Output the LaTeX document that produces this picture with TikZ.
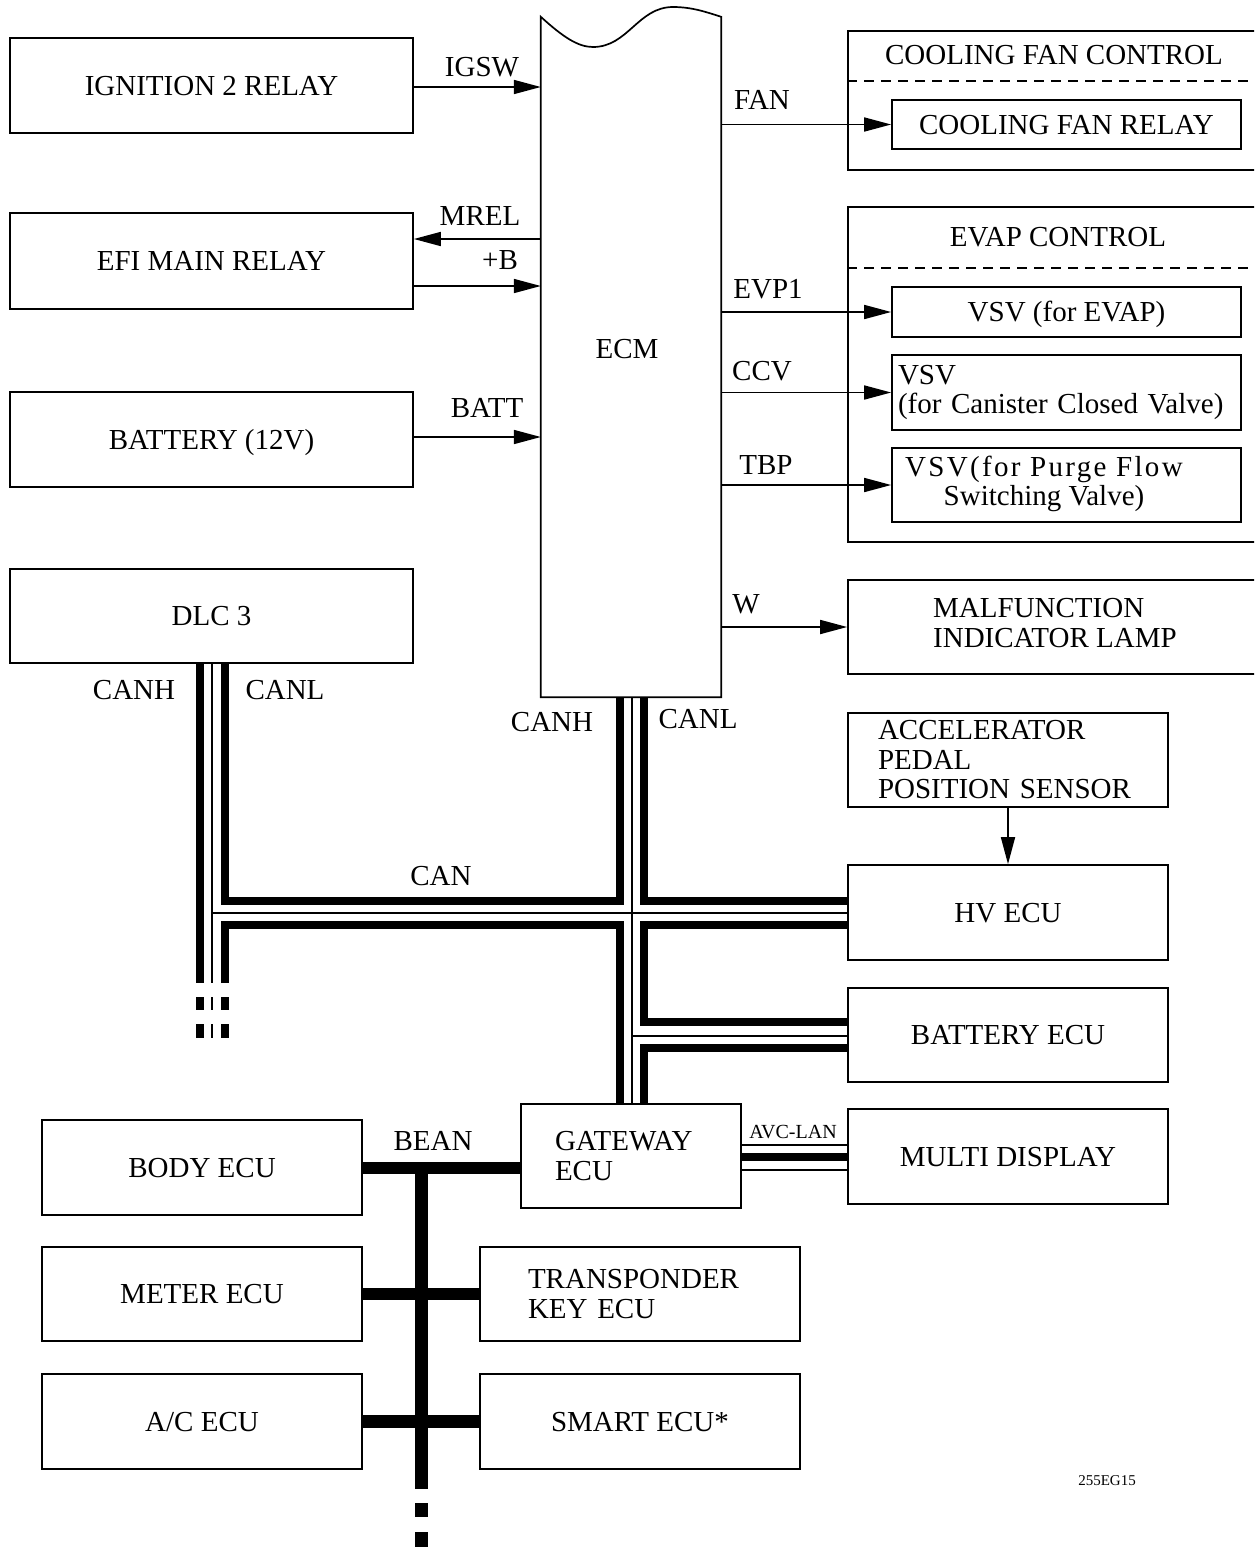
\documentclass[tikz,border=0pt]{standalone}
\usepackage{fontspec}
\setmainfont{Liberation Serif}
\usetikzlibrary{arrows.meta}
\newcommand\fsz{\fontsize{29}{29.5}\selectfont}
\newcommand\fss{\fontsize{20}{22}\selectfont}
\newcommand\fst{\fontsize{15}{17}\selectfont}
\begin{document}
\begin{tikzpicture}[x=1pt,y=-1pt,
 every node/.style={font=\fsz, inner sep=0pt},
 box/.style={draw, line width=1.7pt, inner sep=0pt},
 boxone/.style={box, text height=19pt, text depth=0pt},
 arr/.style={line width=1.7pt, -{Triangle[length=27pt,width=14pt]}},
 dashline/.style={line width=1.7pt, dash pattern=on 10pt off 7pt},
 wall/.style={line width=8.5pt, line join=miter},
 ctr/.style={line width=1.7pt},
 bean/.style={line width=12.5pt}]
\useasboundingbox (0,0) rectangle (1254,1548);
\clip (0,0) rectangle (1254,1548);

% left column boxes
\node[boxone, minimum width=403pt, minimum height=95pt] (ign) at (211.5,85.5) {IGNITION 2 RELAY};
\node[boxone, minimum width=403pt, minimum height=96pt] (efi) at (211.5,261) {EFI MAIN RELAY};
\node[boxone, minimum width=403pt, minimum height=95pt] (bat) at (211.5,439.5) {BATTERY (12V)};
\node[boxone, minimum width=403pt, minimum height=94pt] (dlc) at (211.5,616) {DLC 3};

% ECM
\node[minimum width=180pt, minimum height=680pt] (ecm) at (631,357) {};
\draw[line width=1.7pt] (ecm.south west) -- (ecm.north west)
  .. controls (563,37) and (578,47) .. (593,47)
  .. controls (628,47) and (638,7) .. (673,7)
  .. controls (692,7) and (706,12) .. (ecm.north east) -- (ecm.south east) -- cycle;
\node (ecmlbl) at (627,349) {ECM};

% right column
\node[box, minimum width=414pt, minimum height=139pt] (cfc) at (1055,100.5) {};
\node (cfct) at (1054,55) {COOLING FAN CONTROL};
\draw[dashline] (cfc.west |- 0,81) -- (cfc.east |- 0,81);
\node[boxone, minimum width=349pt, minimum height=49pt] (cfr) at (1066.5,124.5) {COOLING FAN RELAY};

\node[box, minimum width=414pt, minimum height=335pt] (evap) at (1055,374.5) {};
\node (evapt) at (1058,237) {EVAP CONTROL};
\draw[dashline] (evap.west |- 0,268) -- (evap.east |- 0,268);
\node[boxone, minimum width=349pt, minimum height=50pt] (vsv1) at (1066.5,312) {VSV (for EVAP)};
\node[box, minimum width=349pt, minimum height=75pt, align=left, text width=337pt] (vsv2) at (1066.5,392.5) {VSV\\(for Canister Closed Valve)};
\node[box, minimum width=349pt, minimum height=74pt] (vsv3) at (1066.5,485) {};
\node[align=center] (vsv3t) at (1044,484) {{\addfontfeatures{LetterSpace=8}VSV(for Purge Flow}\\ Switching Valve)};

\node[box, minimum width=414pt, minimum height=94pt] (mil) at (1055,627) {};
\node[align=left, anchor=west] (milt) at (933,623) {MALFUNCTION\\INDICATOR LAMP};

\node[box, minimum width=320pt, minimum height=94pt, align=left, text width=260pt] (app) at (1008,760) {ACCELERATOR\\PEDAL\\POSITION SENSOR};
\node[boxone, minimum width=320pt, minimum height=95pt] (hv) at (1008,912.5) {HV ECU};
\node[boxone, minimum width=320pt, minimum height=94pt] (bate) at (1008,1035) {BATTERY ECU};
\node[boxone, minimum width=320pt, minimum height=95pt] (md) at (1008,1156.5) {MULTI DISPLAY};
\node[box, minimum width=220pt, minimum height=104pt, align=left, text width=152pt] (gw) at (631,1156) {GATEWAY\\ECU};

% bottom left
\node[boxone, minimum width=320pt, minimum height=95pt] (body) at (202,1167.5) {BODY ECU};
\node[boxone, minimum width=320pt, minimum height=94pt] (meter) at (202,1294) {METER ECU};
\node[boxone, minimum width=320pt, minimum height=95pt] (ac) at (202,1421.5) {A/C ECU};
\node[box, minimum width=320pt, minimum height=94pt, align=left, text width=224pt] (trans) at (640,1294) {TRANSPONDER\\KEY ECU};
\node[boxone, minimum width=320pt, minimum height=95pt] (smart) at (640,1421.5) {SMART ECU*};

% signal arrows
\draw[arr] (ign.east |- 0,87) -- (ecm.west |- 0,87);
\draw[arr] (ecm.west |- 0,239) -- (efi.east |- 0,239);
\draw[arr] (efi.east |- 0,286) -- (ecm.west |- 0,286);
\draw[arr] (bat.east |- 0,437) -- (ecm.west |- 0,437);
\draw[arr] (ecm.east |- cfr.west) -- (cfr.west);
\draw[arr] (ecm.east |- vsv1.west) -- (vsv1.west);
\draw[arr] (ecm.east |- vsv2.west) -- (vsv2.west);
\draw[arr] (ecm.east |- vsv3.west) -- (vsv3.west);
\draw[arr] (ecm.east |- mil.west) -- (mil.west);
\draw[arr] (app.south) -- (hv.north);

% signal labels
\node (lIGSW) at (482,67) {IGSW};
\node (lMREL) at (480,216) {MREL};
\node (lB) at (500,260) {+B};
\node (lBATT) at (487,408) {BATT};
\node (lFAN) at (762,100) {FAN};
\node (lEVP) at (768,289) {EVP1};
\node (lCCV) at (762,371) {CCV};
\node (lTBP) at (766,465) {TBP};
\node (lW) at (746,604) {W};

% CAN bus
\draw[wall] (dlc.south -| 200,0) -- (200,983);
\draw[wall] (dlc.south -| 225,0) -- (225,901) -- (620,901) -- (ecm.south -| 620,0);
\draw[wall] (225,983) -- (225,925) -- (620,925) -- (gw.north -| 620,0);
\draw[wall] (ecm.south -| 644,0) -- (644,901) -- (hv.west |- 0,901);
\draw[wall] (hv.west |- 0,925) -- (644,925) -- (644,1022) -- (bate.west |- 0,1022);
\draw[wall] (bate.west |- 0,1048) -- (644,1048) -- (gw.north -| 644,0);
\draw[ctr] (dlc.south -| 212,0) -- (212,983);
\draw[ctr] (212,913) -- (hv.west |- 0,913);
\draw[ctr] (ecm.south -| 632,0) -- (gw.north -| 632,0);
\draw[ctr] (632,1036) -- (bate.west |- 0,1036);
\foreach \a/\b in {997/1010,1024/1038}{
  \draw[line width=8.5pt] (200,\a) -- (200,\b);
  \draw[line width=8.5pt] (225,\a) -- (225,\b);
  \draw[ctr] (212,\a) -- (212,\b);
}
\node (lCANH1) at (134,690) {CANH};
\node (lCANL1) at (285,690) {CANL};
\node (lCANH2) at (552,722) {CANH};
\node (lCANL2) at (698,719) {CANL};
\node (lCAN) at (441,876) {CAN};

% AVC-LAN
\draw[ctr] (gw.east |- 0,1145) -- (md.west |- 0,1145);
\draw[line width=8pt] (gw.east |- 0,1157) -- (md.west |- 0,1157);
\draw[ctr] (gw.east |- 0,1170) -- (md.west |- 0,1170);
\node[font=\fss] (lAVC) at (793,1132) {AVC-LAN};

% BEAN
\draw[bean] (body.east |- 0,1168) -- (gw.west |- 0,1168);
\draw[line width=13pt] (421,1162) -- (421,1489);
\draw[line width=13pt] (421,1503) -- (421,1517);
\draw[line width=13pt] (421,1532) -- (421,1547);
\draw[bean] (meter.east) -- (trans.west);
\draw[bean] (ac.east) -- (smart.west);
\node (lBEAN) at (433,1141) {BEAN};

\node[font=\fst] (code) at (1107,1481) {255EG15};
\end{tikzpicture}
\end{document}
